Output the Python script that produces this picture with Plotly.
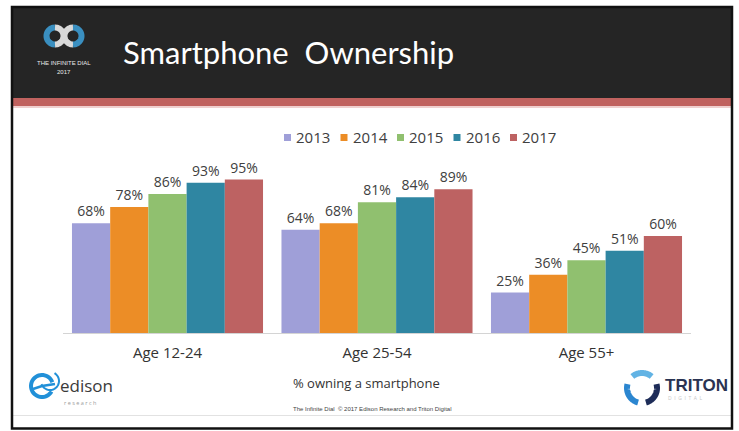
import numpy as np
import plotly.graph_objects as go

W, H = 739, 431

# ---- data ----
categories = ["Age 12-24", "Age 25-54", "Age 55+"]
years = ["2013", "2014", "2015", "2016", "2017"]
values_2013 = [68, 64, 25]
values_2014 = [78, 68, 36]
values_2015 = [86, 81, 45]
values_2016 = [93, 84, 51]
values_2017 = [95, 89, 60]
series = [values_2013, values_2014, values_2015, values_2016, values_2017]
colors = ["#9f9fd8", "#ec8d26", "#90c06f", "#2f86a2", "#bd6262"]


def px(x):
    return x / W


def py(y):
    return 1 - y / H


def poly_path(points):
    pts = [f"{px(x):.5f},{py(y):.5f}" for x, y in points]
    return "M " + " L ".join(pts)


def arc_points(cx, cy, r, a0, a1, n=40):
    t = np.radians(np.linspace(a0, a1, n))
    return [(cx + r * np.cos(a), cy - r * np.sin(a)) for a in t]


fig = go.Figure()
for name, vals, col in zip(years, series, colors):
    fig.add_trace(go.Bar(
        x=categories, y=vals, name=name,
        marker=dict(color=col, line=dict(width=0)),
        text=[f"{v}%" for v in vals], textposition="outside",
        textfont=dict(family="Open Sans", size=14, color="#404040"),
        cliponaxis=False, showlegend=False,
    ))

shapes = []
annotations = []

# slide frame and header band
shapes.append(dict(type="rect", xref="paper", yref="paper",
                   x0=px(13), x1=px(731), y0=py(8), y1=py(98),
                   fillcolor="#252525", line=dict(width=0)))
shapes.append(dict(type="rect", xref="paper", yref="paper",
                   x0=px(13), x1=px(731), y0=py(98), y1=py(106),
                   fillcolor="#c0625f", line=dict(width=0)))
shapes.append(dict(type="rect", xref="paper", yref="paper",
                   x0=px(13), x1=px(731), y0=py(106), y1=py(108),
                   fillcolor="#efd0cf", line=dict(width=0)))
shapes.append(dict(type="line", xref="paper", yref="paper",
                   x0=px(13), x1=px(731), y0=py(415.5), y1=py(415.5),
                   line=dict(color="#e2e2e2", width=1)))
shapes.append(dict(type="rect", xref="paper", yref="paper",
                   x0=px(12), x1=px(732), y0=py(7), y1=py(428.5),
                   fillcolor="rgba(0,0,0,0)", line=dict(color="#111111", width=2.5)))

# Infinite Dial mark: two striped loops
blue = "#3a8fc0"
light = "#d9d9d9"
lx, rx, ly, lr = 55, 73, 36, 8.5
shapes.append(dict(type="path", xref="paper", yref="paper",
                   path=poly_path(arc_points(lx, ly, lr, 90, 270)),
                   line=dict(color=blue, width=6)))
shapes.append(dict(type="path", xref="paper", yref="paper",
                   path=poly_path(arc_points(lx, ly, lr, -90, 90)),
                   line=dict(color=light, width=6)))
shapes.append(dict(type="path", xref="paper", yref="paper",
                   path=poly_path(arc_points(rx, ly, lr, 90, 270)),
                   line=dict(color=light, width=6)))
shapes.append(dict(type="path", xref="paper", yref="paper",
                   path=poly_path(arc_points(rx, ly, lr, -90, 90)),
                   line=dict(color=blue, width=6)))
annotations.append(dict(xref="paper", yref="paper", x=px(64), y=py(63),
                        text="THE INFINITE DIAL", showarrow=False,
                        font=dict(family="Liberation Sans Narrow, Arial Narrow, sans-serif", size=6, color="#e8e8e8"),
                        xanchor="center", yanchor="middle"))
annotations.append(dict(xref="paper", yref="paper", x=px(64), y=py(72),
                        text="2017", showarrow=False,
                        font=dict(family="Liberation Sans Narrow, sans-serif", size=6, color="#e8e8e8"),
                        xanchor="center", yanchor="middle"))

# title
annotations.append(dict(xref="paper", yref="paper", x=px(121), y=py(52),
                        text="Smartphone  Ownership", showarrow=False,
                        font=dict(family="Lato", size=31, color="#ffffff"),
                        xanchor="left", yanchor="middle"))

# legend row
for i, (name, col) in enumerate(zip(years, colors)):
    x0 = 284 + i * 56.5
    shapes.append(dict(type="rect", xref="paper", yref="paper",
                       x0=px(x0), x1=px(x0 + 7), y0=py(134), y1=py(141),
                       fillcolor=col, line=dict(width=0)))
    annotations.append(dict(xref="paper", yref="paper", x=px(x0 + 10), y=py(137.5),
                            text=name, showarrow=False,
                            font=dict(family="Open Sans", size=15, color="#404040"),
                            xanchor="left", yanchor="middle"))

# caption and footer
annotations.append(dict(xref="paper", yref="paper", x=px(366), y=py(383),
                        text="% owning a smartphone", showarrow=False,
                        font=dict(family="Open Sans", size=13, color="#333333"),
                        xanchor="center", yanchor="middle"))
annotations.append(dict(xref="paper", yref="paper", x=px(372), y=py(409),
                        text="The Infinite Dial  \u00a9 2017 Edison Research and Triton Digital",
                        showarrow=False,
                        font=dict(family="Liberation Sans Narrow, sans-serif", size=6, color="#444444"),
                        xanchor="center", yanchor="middle"))

# edison research mark
eblue = "#2190d8"
shapes.append(dict(type="path", xref="paper", yref="paper",
                   path=poly_path(arc_points(42, 386, 11, 20, 330)),
                   line=dict(color=eblue, width=4)))
shapes.append(dict(type="path", xref="paper", yref="paper",
                   path=poly_path([(33, 389), (42, 386), (55, 384)]),
                   line=dict(color=eblue, width=2.5)))
shapes.append(dict(type="path", xref="paper", yref="paper",
                   path=poly_path(arc_points(50, 381, 9, 200, 420)),
                   line=dict(color=eblue, width=2)))
annotations.append(dict(xref="paper", yref="paper", x=px(58), y=py(385),
                        text="edison", showarrow=False,
                        font=dict(family="Open Sans", size=17, color="#3a3a3a"),
                        xanchor="left", yanchor="middle"))
annotations.append(dict(xref="paper", yref="paper", x=px(62), y=py(402.5),
                        text="r e s e a r c h", showarrow=False,
                        font=dict(family="Open Sans", size=5.5, color="#9a9a9a"),
                        xanchor="left", yanchor="middle"))

# Triton mark: three arcs around a ring
shapes.append(dict(type="path", xref="paper", yref="paper",
                   path=poly_path(arc_points(642, 388, 15, 50, 130)),
                   line=dict(color="#62b3e4", width=6)))
shapes.append(dict(type="path", xref="paper", yref="paper",
                   path=poly_path(arc_points(642, 388, 15, 165, 255)),
                   line=dict(color="#2b86d0", width=6)))
shapes.append(dict(type="path", xref="paper", yref="paper",
                   path=poly_path(arc_points(642, 388, 15, -75, 15)),
                   line=dict(color="#1d2c58", width=6)))
annotations.append(dict(xref="paper", yref="paper", x=px(663), y=py(385),
                        text="<b>TRITON</b>", showarrow=False,
                        font=dict(family="Liberation Sans Narrow, sans-serif", size=17, color="#2a3352"),
                        xanchor="left", yanchor="middle"))
annotations.append(dict(xref="paper", yref="paper", x=px(666), y=py(398),
                        text="D  I  G  I  T  A  L", showarrow=False,
                        font=dict(family="Open Sans", size=5, color="#c8c8c8"),
                        xanchor="left", yanchor="middle"))

fig.update_layout(
    width=W, height=H,
    margin=dict(l=0, r=0, t=0, b=0),
    paper_bgcolor="#ffffff", plot_bgcolor="#ffffff",
    barmode="group", bargap=0.088, bargroupgap=0,
    xaxis=dict(domain=[px(62.75), px(691.25)], showline=True,
               linecolor="#d4d4d4", linewidth=1, ticks="", showgrid=False,
               ticklabelstandoff=6,
               tickfont=dict(family="Open Sans", size=15, color="#333333"),
               fixedrange=True),
    yaxis=dict(domain=[py(333), py(333 - 1.615 * 110)], range=[0, 110],
               visible=False, fixedrange=True),
    shapes=shapes, annotations=annotations,
)

fig.write_html("out.html")
